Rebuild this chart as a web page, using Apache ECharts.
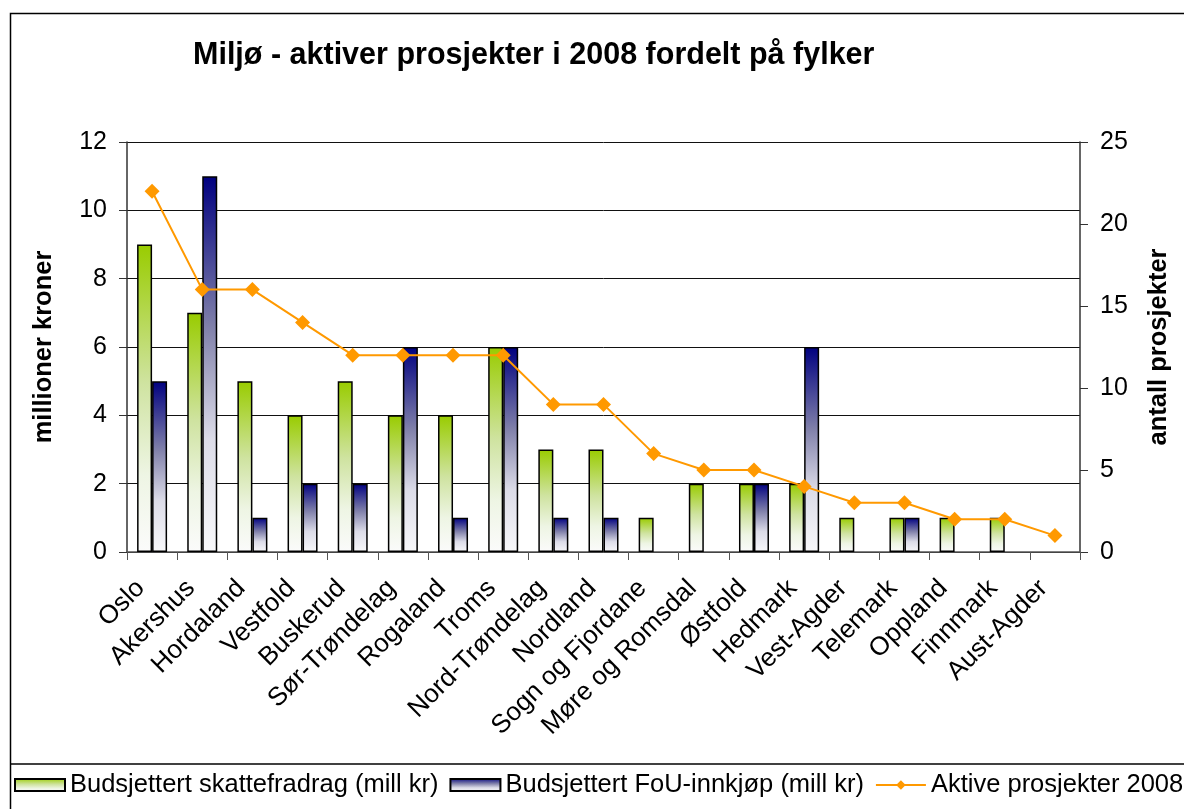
<!DOCTYPE html>
<html>
<head>
<meta charset="utf-8">
<title>Miljø - aktiver prosjekter i 2008 fordelt på fylker</title>
<script src="https://cdn.jsdelivr.net/npm/echarts@6/dist/echarts.min.js"></script>
<style>
  html, body { margin: 0; padding: 0; background: #fff; }
  #chart { width: 1184px; height: 809px; }
</style>
</head>
<body>
<div id="chart"></div>
<script>
  // fylker
  var fylker = ['Oslo', 'Akershus', 'Hordaland', 'Vestfold', 'Buskerud', 'Sør-Trøndelag', 'Rogaland',
    'Troms', 'Nord-Trøndelag', 'Nordland', 'Sogn og Fjordane', 'Møre og Romsdal', 'Østfold',
    'Hedmark', 'Vest-Agder', 'Telemark', 'Oppland', 'Finnmark', 'Aust-Agder'];
  // mill kr
  var skattefradrag = [9, 7, 5, 4, 5, 4, 4, 6, 3, 3, 1, 2, 2, 2, 1, 1, 1, 1, 0];
  var fouInnkjop = [5, 11, 1, 2, 2, 6, 1, 6, 1, 1, 0, 0, 2, 6, 0, 1, 0, 0, 0];
  // antall
  var aktiveProsjekter = [22, 16, 16, 14, 12, 12, 12, 12, 9, 9, 6, 5, 5, 4, 3, 3, 2, 2, 1];

  var font = 'Arial, "Liberation Sans", sans-serif';

  // Excel draws nothing for a zero bar, so skip them
  function noZero(arr) {
    return arr.map(function (v) { return v === 0 ? '-' : v; });
  }

  var chart = echarts.init(document.getElementById('chart'));

  chart.setOption({
    animation: false,
    backgroundColor: '#fff',
    title: {
      text: 'Miljø - aktiver prosjekter i 2008 fordelt på fylker',
      left: 193,
      top: 40,
      padding: 0,
      textStyle: { fontFamily: font, fontSize: 30.5, fontWeight: 'bold', color: '#000' }
    },
    graphic: [
      { type: 'rect', shape: { x: 10.5, y: 13.5, width: 1300, height: 900 },
        style: { fill: 'none', stroke: '#000', lineWidth: 1.5 }, z: -1 },
      { type: 'line', shape: { x1: 10, y1: 764, x2: 1184, y2: 764 },
        style: { stroke: '#000', lineWidth: 1.5 } }
    ],
    legend: {
      left: 14,
      top: 772,
      width: 1170,
      padding: 0,
      itemWidth: 50,
      itemHeight: 12,
      itemGap: 11,
      textStyle: { fontFamily: font, fontSize: 25.5, color: '#000' },
      data: [
        { name: 'Budsjettert skattefradrag (mill kr)', icon: 'rect' },
        { name: 'Budsjettert FoU-innkjøp (mill kr)', icon: 'rect' },
        { name: 'Aktive prosjekter 2008' }
      ]
    },
    grid: { left: 127, right: 104, top: 142, bottom: 257 },
    xAxis: {
      type: 'category',
      data: fylker,
      axisLine: { lineStyle: { color: '#555', width: 1.5 } },
      axisTick: { show: true, length: 8, interval: 0, lineStyle: { color: '#555' } },
      axisLabel: {
        interval: 0,
        rotate: 45,
        margin: 21,
        padding: [0, 16, 0, 0],
        fontFamily: font,
        fontSize: 26,
        color: '#000'
      }
    },
    yAxis: [
      {
        type: 'value',
        min: 0,
        max: 12,
        interval: 2,
        name: 'millioner kroner',
        nameLocation: 'middle',
        nameRotate: 90,
        nameGap: 70,
        nameTextStyle: { fontFamily: font, fontSize: 25.5, fontWeight: 'bold', color: '#000' },
        axisLine: { show: true, lineStyle: { color: '#333', width: 1.5 } },
        axisTick: { show: true, length: 8, lineStyle: { color: '#333' } },
        axisLabel: { fontFamily: font, fontSize: 25, color: '#000', margin: 20 },
        splitLine: { lineStyle: { color: '#111', width: 1 } }
      },
      {
        type: 'value',
        min: 0,
        max: 25,
        interval: 5,
        name: 'antall prosjekter',
        nameLocation: 'middle',
        nameRotate: 90,
        nameGap: 66,
        nameTextStyle: { fontFamily: font, fontSize: 25.5, fontWeight: 'bold', color: '#000' },
        axisLine: { show: true, lineStyle: { color: '#333', width: 1.5 } },
        axisTick: { show: true, length: 8, lineStyle: { color: '#333' } },
        axisLabel: { fontFamily: font, fontSize: 25, color: '#000', margin: 20 },
        splitLine: { show: false }
      }
    ],
    series: [
      {
        name: 'Budsjettert skattefradrag (mill kr)',
        type: 'bar',
        barWidth: 15,
        barGap: '0%',
        data: noZero(skattefradrag),
        itemStyle: {
          borderColor: '#000',
          borderWidth: 1.5,
          color: new echarts.graphic.LinearGradient(0, 0, 0, 1, [
            { offset: 0, color: '#99cc00' },
            { offset: 0.45, color: '#cfe3a0' },
            { offset: 0.75, color: '#eef5e4' },
            { offset: 1, color: '#fbfbfb' }
          ])
        }
      },
      {
        name: 'Budsjettert FoU-innkjøp (mill kr)',
        type: 'bar',
        barWidth: 15,
        barGap: '0%',
        data: noZero(fouInnkjop),
        itemStyle: {
          borderColor: '#000',
          borderWidth: 1.5,
          color: new echarts.graphic.LinearGradient(0, 0, 0, 1, [
            { offset: 0, color: '#000080' },
            { offset: 0.4, color: '#8080aa' },
            { offset: 0.7, color: '#dcdce8' },
            { offset: 1, color: '#f8f8fa' }
          ])
        }
      },
      {
        name: 'Aktive prosjekter 2008',
        type: 'line',
        yAxisIndex: 1,
        data: aktiveProsjekter,
        symbol: 'diamond',
        symbolSize: 15,
        lineStyle: { color: '#ff9900', width: 2 },
        itemStyle: { color: '#ff9900' },
        z: 5
      }
    ]
  });
</script>
</body>
</html>
